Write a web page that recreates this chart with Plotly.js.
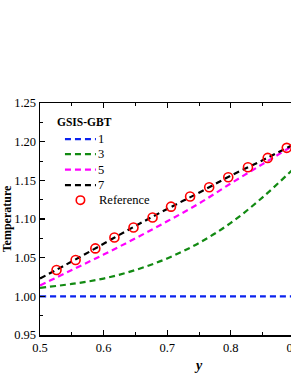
<!DOCTYPE html>
<html><head><meta charset="utf-8">
<script src="https://cdn.plot.ly/plotly-3.0.1.min.js"></script>
<style>html,body{margin:0;padding:0;overflow:hidden;width:291px;height:376px;background:#fff}</style>
</head><body><div id="plot"></div>
<script>
const xLine = [0.5,0.55,0.6,0.65,0.7,0.75,0.8,0.85,0.9];
const t1 = [1.000,1.000,1.000,1.000,1.000,1.000,1.000,1.000,1.000];
const t3 = [1.011,1.016,1.023,1.034,1.049,1.069,1.095,1.128,1.166];
const t5 = [1.014,1.034,1.054,1.075,1.097,1.120,1.146,1.171,1.196];
const t7 = [1.023,1.045,1.068,1.091,1.113,1.134,1.156,1.176,1.197];
const xRef = [0.526,0.556,0.587,0.617,0.647,0.677,0.706,0.736,0.766,0.796,0.827,0.858,0.888];
const tRef = [1.034,1.047,1.062,1.076,1.089,1.102,1.116,1.129,1.141,1.154,1.167,1.179,1.192];
const names = ['1','3','5','7','Reference'];
const colors = ['#0a22ee','#128a12','#ff00ff','#000000','#ff0000'];
const legendTitle = 'GSIS-GBT';

const dash = '6px,4px';
const traces = [t1,t3,t5,t7].map((t,i)=>({
  x:xLine, y:t, mode:'lines', name:names[i], showlegend:false,
  line:{color:colors[i], width:2.2, dash:dash, shape:'spline', smoothing:1}
}));
traces.push({x:xRef, y:tRef, mode:'markers', name:names[4], showlegend:false,
  marker:{symbol:'circle-open', size:9, color:colors[4], line:{width:1.6, color:colors[4]}}});

const fam = '"Liberation Serif","Times New Roman",serif';
const font = {family:fam, size:12, color:'#000'};

// manual legend (paper coordinates) to reproduce the compact row spacing
const W = 380, H = 376, L = 40, R = 21.5, T = 103.3, B = 40.6;
const pw = W - L - R, ph = H - T - B;
const px2x = p => (p - L) / pw;
const py2y = p => (H - B - p) / ph;
const rowY = [139.5, 154.5, 170, 185.5, 200.5];
const shapes = [], annotations = [];
annotations.push({xref:'paper', yref:'paper', x:px2x(55), y:py2y(122), xanchor:'left', yanchor:'middle',
  text:'<b>'+legendTitle+'</b>', showarrow:false, font:{family:fam, size:11.5, color:'#000'}});
names.forEach((n,i)=>{
  const yy = py2y(rowY[i]);
  if (i < 4) {
    shapes.push({type:'line', xref:'paper', yref:'paper', x0:px2x(65), x1:px2x(96), y0:yy, y1:yy,
      line:{color:colors[i], width:2.2, dash:dash}});
  } else {
    shapes.push({type:'circle', xref:'paper', yref:'paper', xsizemode:'pixel', ysizemode:'pixel',
      xanchor:px2x(80.5), yanchor:yy, x0:-4.2, x1:4.2, y0:-4.2, y1:4.2,
      line:{color:colors[i], width:1.6}});
  }
  annotations.push({xref:'paper', yref:'paper', x:px2x(i<4?96:97), y:yy, xanchor:'left', yanchor:'middle',
    text:n, showarrow:false, font:{family:fam, size:12.5, color:'#000'}});
});

const axisCommon = {showline:true, linecolor:'#000', linewidth:1.5, mirror:'allticks',
  ticks:'inside', ticklen:5, tickwidth:1.2, tickcolor:'#000', showgrid:false, zeroline:false,
  tickfont:{family:fam, size:12.5, color:'#000'}};
const layout = {
  width:W, height:H,
  margin:{l:L, r:R, t:T, b:B},
  paper_bgcolor:'#fff', plot_bgcolor:'#fff',
  font:font, showlegend:false, shapes:shapes, annotations:annotations,
  xaxis:Object.assign({}, axisCommon, {range:[0.5,1.0], dtick:0.1, tickformat:'.1f',
    minor:{dtick:0.05, ticks:'inside', ticklen:3, tickwidth:1, tickcolor:'#000'},
    title:{text:'<b><i>y</i></b>', font:{family:fam, size:14, color:'#000'}, standoff:6}}),
  yaxis:Object.assign({}, axisCommon, {range:[0.95,1.25], dtick:0.05, tickformat:'.2f',
    minor:{dtick:0.025, ticks:'inside', ticklen:3, tickwidth:1, tickcolor:'#000'},
    title:{text:'<b>Temperature</b>', font:{family:fam, size:12, color:'#000'}, standoff:4}})
};
Plotly.newPlot('plot', traces, layout, {displayModeBar:false, staticPlot:true});
</script></body></html>
